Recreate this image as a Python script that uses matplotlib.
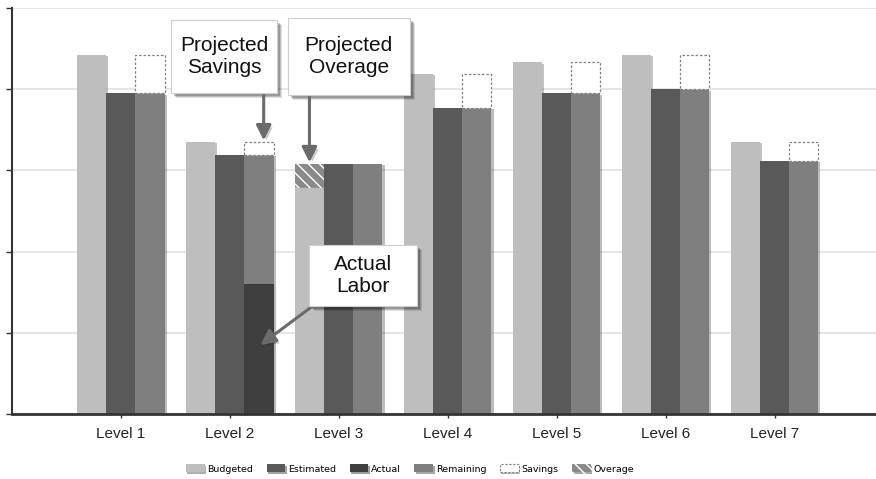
import matplotlib.pyplot as plt
import matplotlib.patheffects as pe
from matplotlib.patches import Patch, Rectangle
import numpy as np

plt.rcParams['font.family'] = ['Liberation Sans', 'DejaVu Sans']

# Datos
levels = ['Level 1', 'Level 2', 'Level 3', 'Level 4', 'Level 5', 'Level 6', 'Level 7']
budgeted = [4.42, 3.35, 2.80, 4.19, 4.33, 4.42, 3.35]
estimated = [3.95, 3.19, 3.08, 3.77, 3.95, 4.00, 3.12]
actual = [0, 1.60, 0, 0, 0, 0, 0]

c_budget = '#bebebe'
c_est = '#595959'
c_actual = '#3f3f3f'
c_remain = '#7f7f7f'

budgeted = np.array(budgeted)
estimated = np.array(estimated)
actual = np.array(actual)
remaining = estimated - actual
savings = np.clip(budgeted - estimated, 0, None)
overage = np.clip(estimated - budgeted, 0, None)

x = np.arange(len(levels))
w = 0.267

fig = plt.figure(figsize=(8.76, 4.79), dpi=100)
ax = fig.add_axes([12 / 876, 65 / 479, 1 - 12 / 876, 406 / 479])

shadow = [pe.SimplePatchShadow(offset=(1.5, -1), alpha=0.3), pe.Normal()]

bars = []
bars += ax.bar(x - w, budgeted, w, color=c_budget, zorder=3)
bars += ax.bar(x - w, overage, w, bottom=budgeted, facecolor='#8a8a8a', edgecolor='white',
               hatch='\\\\\\', linewidth=0, zorder=3)
bars += ax.bar(x, estimated, w, color=c_est, zorder=3)
bars += ax.bar(x + w, actual, w, color=c_actual, zorder=3)
bars += ax.bar(x + w, remaining, w, bottom=actual, color=c_remain, zorder=3)
for b in bars:
    if b.get_height() > 0:
        b.set_path_effects(shadow)

# Ahorros con borde punteado
sv = ax.bar(x + w, savings, w, bottom=estimated, color='white', edgecolor='#808080',
            linestyle=(0, (2, 1.5)), linewidth=0.9, zorder=3)
for b in sv:
    if b.get_height() <= 0:
        b.set_visible(False)

ax.set_xlim(-1.0, 6.93)
ax.set_ylim(0, 5)
ax.set_yticks(np.arange(0, 6, 1))
ax.set_yticklabels([])
ax.set_xticks(x)
ax.set_xticklabels(levels, fontsize=11, color='#222222')
ax.tick_params(axis='x', length=3, width=1, color='#333333', pad=6)
ax.tick_params(axis='y', length=4, width=1, color='#333333')
ax.grid(axis='y', color='#e2e2e2', linewidth=1.2, zorder=0)
ax.set_axisbelow(True)
for s in ['top', 'right']:
    ax.spines[s].set_visible(False)
ax.spines['left'].set_color('#333333')
ax.spines['left'].set_linewidth(1.5)
ax.spines['bottom'].set_color('#333333')
ax.spines['bottom'].set_linewidth(2)
ax.spines['bottom'].set_zorder(5)

# Recuadros de anotación
arrow = dict(arrowstyle='-|>,head_length=0.9,head_width=0.45', color='#6b6b6b', lw=2.2,
             shrinkA=0, shrinkB=0)


def callout(text, x0, x1, y0, y1, tail, head):
    for off, a in [(0.045, 0.12), (0.035, 0.15), (0.025, 0.2)]:
        ax.add_patch(Rectangle((x0 + off, y0 - off * 1.35), x1 - x0, y1 - y0, facecolor='black',
                               alpha=a, linewidth=0, zorder=5))
    ax.add_patch(Rectangle((x0, y0), x1 - x0, y1 - y0, facecolor='white', edgecolor='#cfcfcf',
                           linewidth=0.8, zorder=6))
    ax.text((x0 + x1) / 2, (y0 + y1) / 2, text, ha='center', va='center', fontsize=15,
            color='#111111', linespacing=1.15, zorder=7)
    a = ax.annotate('', xy=head, xytext=tail, arrowprops=arrow, zorder=5)
    a.arrow_patch.set_path_effects([pe.SimplePatchShadow(offset=(2, -2), alpha=0.25), pe.Normal()])


callout('Projected\nSavings', 0.459, 1.431, 3.953, 4.852, (1.31, 3.95), (1.31, 3.37))
callout('Projected\nOverage', 1.532, 2.651, 3.929, 4.877, (1.73, 3.93), (1.73, 3.10))
callout('Actual\nLabor', 1.725, 2.716, 1.330, 2.081, (1.77, 1.34), (1.28, 0.85))

# Leyenda
handles = [
    Patch(facecolor=c_budget, label='Budgeted'),
    Patch(facecolor=c_est, label='Estimated'),
    Patch(facecolor=c_actual, label='Actual'),
    Patch(facecolor=c_remain, label='Remaining'),
    Patch(facecolor='white', edgecolor='#808080', linestyle=(0, (2, 1.5)), linewidth=0.8, label='Savings'),
    Patch(facecolor='#8a8a8a', edgecolor='white', hatch='\\\\\\', linewidth=0, label='Overage'),
]
leg = fig.legend(handles=handles, loc='center', bbox_to_anchor=(0.468, 0.021), ncol=6,
                 frameon=False, handlelength=2.0, handleheight=0.9,
                 handletextpad=0.3, columnspacing=1.4, prop={'family': 'DejaVu Sans', 'size': 6.8})
for h in leg.legend_handles:
    h.set_path_effects([pe.SimplePatchShadow(offset=(1, -1), alpha=0.4), pe.Normal()])

fig.savefig('out.png', dpi=100)
